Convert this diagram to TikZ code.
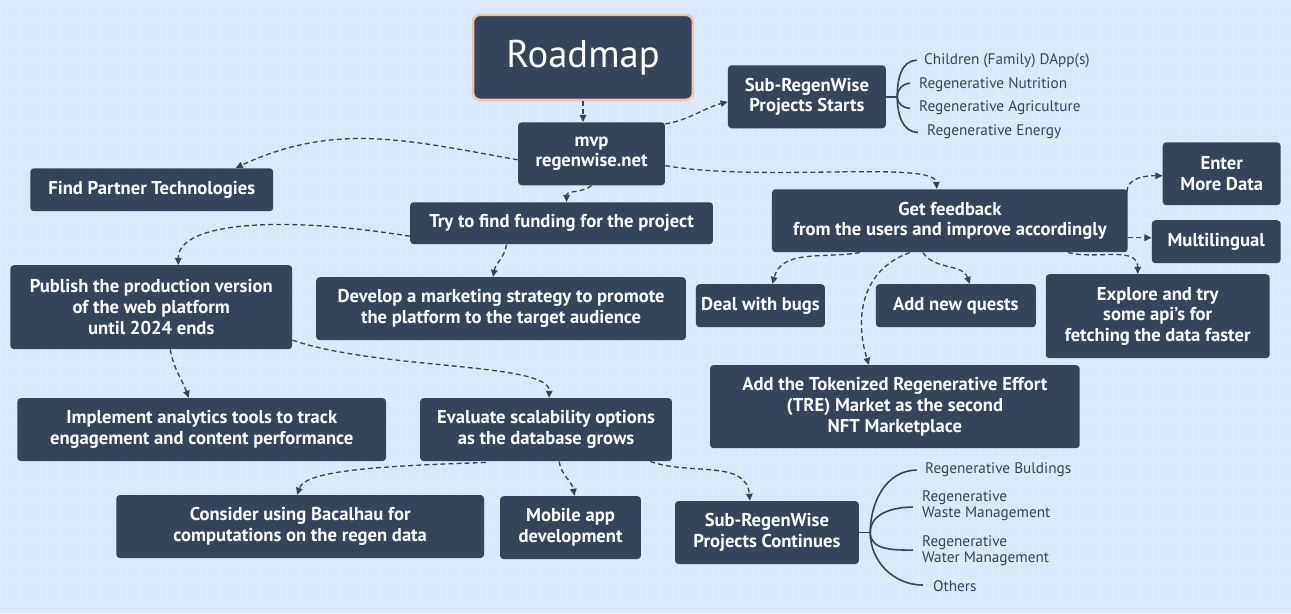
\documentclass[tikz,border=0pt]{standalone}
\usepackage{fontspec}
\setmainfont{PT Sans}
\usetikzlibrary{arrows.meta,calc}

\definecolor{boxblue}{HTML}{36445A}
\definecolor{bgblue}{HTML}{D9E8FB}
\definecolor{titlering}{HTML}{F0C4A6}

\begin{document}
\begin{tikzpicture}[x=0.02cm, y=-0.02cm,
    task/.style={fill=boxblue, rounded corners=2pt, text=white, font=\fontsize{10.6}{11.8}\selectfont\bfseries, align=center, inner sep=0pt},
    headbox/.style={task, draw=titlering, line width=1.4pt, rounded corners=4pt, font=\fontsize{22}{24}\selectfont},
    link/.style={-{Triangle[length=1.4mm,width=1.3mm]}, draw=boxblue, line width=0.75pt, dash pattern=on 2.8pt off 1.8pt},
    branch/.style={draw=boxblue, line width=0.9pt},
    leaf/.style={anchor=west, text=boxblue, font=\fontsize{8.7}{9.2}\selectfont, align=left, inner sep=0pt}
]
    % Background
    \fill[bgblue] (0,0) rectangle (1291,613);
    \draw[white, opacity=0.25, step=0.4cm] (0,0) grid (1291,613);
    \useasboundingbox (0,0) rectangle (1291,613);

    % Boxes
    \node[headbox, minimum width=4.4cm, minimum height=1.7cm] (title) at (583,57) {Roadmap};
    \node[task, minimum width=2.94cm, minimum height=1.26cm] (mvp) at (591.5,153.5) {mvp\\regenwise.net};
    \node[task, minimum width=3.16cm, minimum height=1.26cm] (starts) at (807,96.5) {Sub-RegenWise\\Projects Starts};
    \node[task, minimum width=4.86cm, minimum height=0.86cm] (partner) at (151.5,189.5) {Find Partner Technologies};
    \node[task, minimum width=6.06cm, minimum height=0.84cm] (funding) at (561.5,223) {Try to find funding for the project};
    \node[task, minimum width=7.12cm, minimum height=1.26cm] (feedback) at (950,220.5) {Get feedback\\from the users and improve accordingly};
    \node[task, minimum width=2.36cm, minimum height=1.26cm] (moredata) at (1222,173.5) {Enter\\More Data};
    \node[task, minimum width=2.58cm, minimum height=0.86cm] (multi) at (1216.5,241.5) {Multilingual};
    \node[task, minimum width=5.64cm, minimum height=1.68cm] (publish) at (151,307) {Publish the production version\\of the web platform\\until 2024 ends};
    \node[task, minimum width=7.4cm, minimum height=1.26cm] (marketing) at (501,308.5) {Develop a marketing strategy to promote\\the platform to the target audience};
    \node[task, minimum width=2.58cm, minimum height=0.86cm] (bugs) at (760.5,305.5) {Deal with bugs};
    \node[task, minimum width=3.2cm, minimum height=0.86cm] (quests) at (956,305.5) {Add new quests};
    \node[task, minimum width=4.48cm, minimum height=1.68cm] (explore) at (1158,316) {Explore and try\\some api's for\\fetching the data faster};
    \node[task, minimum width=7.4cm, minimum height=1.66cm] (tre) at (895,406.5) {Add the Tokenized Regenerative Effort\\(TRE) Market as the second\\NFT Marketplace};
    \node[task, minimum width=7.38cm, minimum height=1.26cm] (analytics) at (201.5,429.5) {Implement analytics tools to track\\engagement and content performance};
    \node[task, minimum width=5.04cm, minimum height=1.26cm] (scale) at (546,429.5) {Evaluate scalability options\\as the database grows};
    \node[task, minimum width=7.36cm, minimum height=1.26cm] (bacalhau) at (300,526.5) {Consider using Bacalhau for\\computations on the regen data};
    \node[task, minimum width=2.82cm, minimum height=1.26cm] (mobile) at (570.5,527.5) {Mobile app\\development};
    \node[task, minimum width=3.68cm, minimum height=1.26cm] (cont) at (767,532.5) {Sub-RegenWise\\Projects Continues};

    % Sub-project leaves
    \node[leaf] (s1) at (924,60) {Children (Family) DApp(s)};
    \node[leaf] (s2) at (919,84) {Regenerative Nutrition};
    \node[leaf] (s3) at (919,107) {Regenerative Agriculture};
    \node[leaf] (s4) at (927,131) {Regenerative Energy};
    \node[leaf] (c1) at (925,470) {Regenerative Buldings};
    \node[leaf] (c2) at (922,506) {Regenerative\\Waste Management};
    \node[leaf] (c3) at (922,551) {Regenerative\\Water Management};
    \node[leaf] (c4) at (933,586) {Others};

    % Links
    \draw[link] (title.south) -- (title.south |- mvp.north);
    \draw[link] ($(mvp.north east)+(0,2)$) to[out=10,in=195] ($(starts.west)+(0,5)$);
    \draw[link] ($(mvp.west)+(0,6)$) to[out=170,in=25] ($(partner.north)+(84,0)$);
    \draw[link] (mvp.south) to[out=-140,in=90] ($(funding.north)+(5,0)$);
    \draw[link] ($(mvp.south east)+(0,-20)$) .. controls (760,182) and (935,160) .. ($(feedback.north)+(-13,0)$);
    \draw[link] ($(funding.west)+(0,13)$) .. controls (280,215) and (178,222) .. ($(publish.north)+(27,0)$);
    \draw[link] ($(funding.south)+(-55,0)$) to[out=-100,in=80] ($(marketing.north)+(-8,0)$);
    \draw[link] ($(publish.east)+(0,33)$) .. controls (380,370) and (550,362) .. ($(scale.north)+(3,0)$);
    \draw[link] ($(publish.south)+(19,0)$) to[out=-80,in=110] ($(analytics.north)+(-13,0)$);
    \draw[link] ($(scale.south west)+(66,1)$) .. controls (380,466) and (305,470) .. ($(bacalhau.north)+(-3,0)$);
    \draw[link] ($(scale.south)+(13,0)$) to[out=-80,in=100] ($(mobile.north)+(4,0)$);
    \draw[link] ($(scale.south east)+(-22,0)$) to[out=-20,in=95] ($(cont.north)+(-17,0)$);
    \draw[link] ($(feedback.north east)+(-1,3)$) to[out=90,in=180] ($(moredata.west)+(0,2)$);
    \draw[link] ($(feedback.east)+(0,17)$) -- ($(multi.west)+(0,-4)$);
    \draw[link] ($(feedback.south east)+(-60,0)$) to[out=-15,in=90] ($(explore.north)+(-20,0)$);
    \draw[link] ($(feedback.south)+(-90,0)$) to[out=-170,in=75] ($(bugs.north)+(12,0)$);
    \draw[link] ($(feedback.south)+(-40,0)$) .. controls (860,270) and (855,320) .. ($(tre.north)+(-26,0)$);
    \draw[link] ($(feedback.south)+(-27,0)$) to[out=-55,in=110] ($(quests.north)+(14,0)$);

    % Branches
    \coordinate (sj) at ($(starts.east)+(11,0)$);
    \draw[branch] (starts.east) -- (sj);
    \draw[branch] (sj) to[out=90,in=180] ($(s1.west)+(-7,0)$);
    \draw[branch] (sj) to[out=90,in=180] ($(s2.west)+(-9,-1)$);
    \draw[branch] (sj) to[out=-90,in=180] ($(s3.west)+(-9,1)$);
    \draw[branch] (sj) to[out=-90,in=180] ($(s4.west)+(-9,1)$);
    \coordinate (cj) at ($(cont.east)+(11,0)$);
    \draw[branch] (cont.east) -- (cj);
    \draw[branch] (cj) to[out=90,in=180] ($(c1.west)+(-8,0)$);
    \draw[branch] (cj) to[out=90,in=180] ($(c2.west)+(-9,1)$);
    \draw[branch] (cj) to[out=-90,in=180] ($(c3.west)+(-9,-1)$);
    \draw[branch] (cj) to[out=-90,in=180] ($(c4.west)+(-10,-1)$);
\end{tikzpicture}
\end{document}
